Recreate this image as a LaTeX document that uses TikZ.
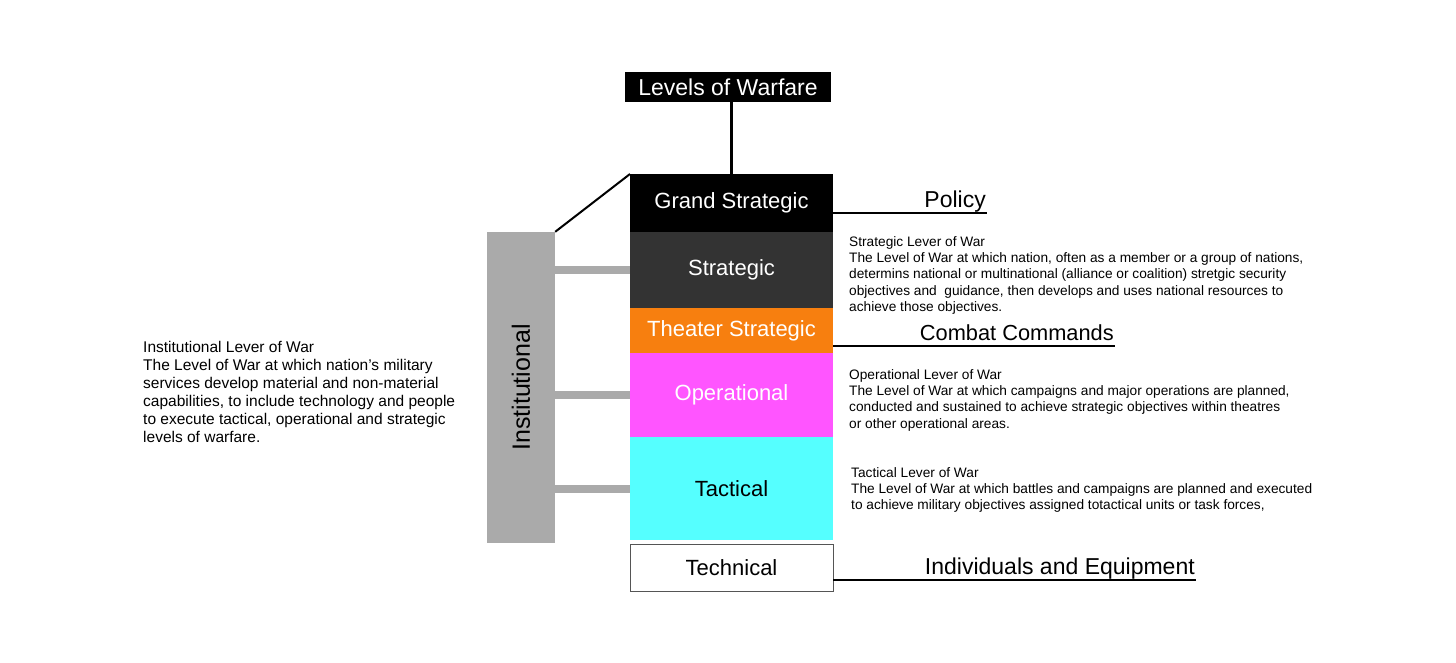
\documentclass[tikz,border=0pt]{standalone}
\usepackage{fontspec}
\setmainfont{Liberation Sans}
\usetikzlibrary{positioning}
\definecolor{grandc}{HTML}{000000}
\definecolor{stratc}{HTML}{333333}
\definecolor{theaterc}{HTML}{F77F0F}
\definecolor{operc}{HTML}{FF55FF}
\definecolor{tactc}{HTML}{55FFFF}
\definecolor{instc}{HTML}{AAAAAA}
\definecolor{edge}{HTML}{555555}
\newcommand\boxfont{\fontsize{22}{25}\selectfont}
\newcommand\headfont{\fontsize{23}{27}\selectfont}
\newcommand\descfont{\fontsize{13.7}{16.3}\selectfont}
\newcommand\sidefont{\fontsize{15.5}{18}\selectfont}

\begin{document}
\begin{tikzpicture}[x=1pt,y=-1pt,
  level/.style={minimum width=203pt,inner sep=0pt,outer sep=0pt,font=\boxfont,text=white},
  rule/.style={line width=2.5pt},
  link/.style={line width=8pt,instc},
  head/.style={anchor=base east,inner sep=0pt,yshift=6pt,font=\headfont},
  desc/.style={anchor=north west,inner sep=0pt,align=left,font=\descfont}]
\useasboundingbox (0,0) rectangle (1456,662);
\node[fill=black,text=white,minimum width=206pt,minimum height=30pt,inner sep=0pt,font=\headfont] (title) at (728,87) {Levels of Warfare};
\node[level,fill=grandc,minimum height=58pt,anchor=north west] (grand) at (630,174) {Grand Strategic};
\node[level,fill=stratc,minimum height=76pt,below=0pt of grand] (strat) {Strategic};
\node[level,fill=theaterc,minimum height=45pt,below=0pt of strat] (theater) {Theater Strategic};
\node[level,fill=operc,minimum height=84pt,below=0pt of theater] (oper) {Operational};
\node[level,fill=tactc,text=black,minimum height=103pt,below=0pt of oper] (tact) {Tactical};
\node[level,draw=edge,line width=1pt,text=black,minimum height=47pt,below=4pt of tact] (tech) {Technical};
\node[fill=instc,minimum width=68pt,minimum height=311pt,inner sep=0pt,label={[rotate=90,font=\fontsize{25}{28}\selectfont]center:Institutional}] (inst) at (521,387.5) {};
\draw[rule] (title.south -| grand.north) -- (grand.north);
\draw[line width=2pt] (inst.north east) -- (grand.north west);
\draw[link] (strat.west -| inst.east) -- (strat.west);
\draw[link] (oper.west -| inst.east) -- (oper.west);
\draw[link] (tact.west -| inst.east) -- (tact.west);
% labels on the right
\coordinate (policyend) at (987,213);
\coordinate (combatend) at (1115,346);
\coordinate (indivend) at (1196,580);
\draw[rule] (policyend -| grand.east) -- (policyend) node[head] {Policy};
\draw[rule] (combatend -| theater.east) -- (combatend) node[head,font=\fontsize{21.8}{26}\selectfont] {Combat Commands};
\draw[rule] (indivend -| tech.east) -- (indivend) node[head] {Individuals and Equipment};
\node[desc] (stratdesc) at (849,236) {Strategic Lever of War\\The Level of War at which nation, often as a member or a group of nations,\\determins national or multinational (alliance or coalition) stretgic security\\objectives and\ \ guidance, then develops and uses national resources to\\achieve those objectives.};
\node[desc] (operdesc) at (849,369) {Operational Lever of War\\The Level of War at which campaigns and major operations are planned,\\conducted and sustained to achieve strategic objectives within theatres\\or other operational areas.};
\node[desc] (tactdesc) at (851,467) {Tactical Lever of War\\The Level of War at which battles and campaigns are planned and executed\\to achieve military objectives assigned totactical units or task forces,};
\node[desc,font=\sidefont] (instdesc) at (143,341) {Institutional Lever of War\\The Level of War at which nation’s military\\services develop material and non-material\\capabilities, to include technology and people\\to execute tactical, operational and strategic\\levels of warfare.};
\end{tikzpicture}
\end{document}
